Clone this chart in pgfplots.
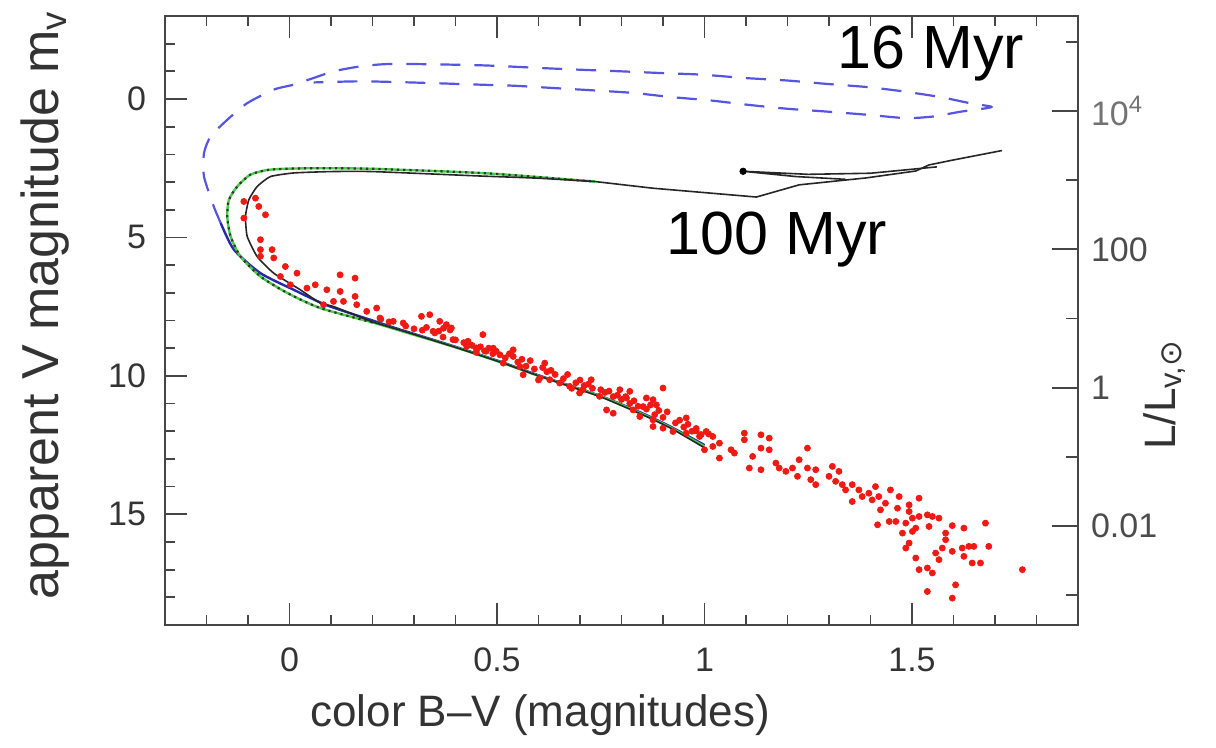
\documentclass[border=0pt]{standalone}
\usepackage{fontspec}
\setmainfont{Liberation Sans}
\newfontfamily\dejavu{DejaVu Sans}
\usepackage{pgfplots}
\usepackage{pgfplotstable}
\pgfplotsset{compat=1.18}
\definecolor{ptred}{RGB}{240,25,20}
\definecolor{isoblue}{RGB}{85,85,225}
\definecolor{msblue}{RGB}{40,40,170}
\definecolor{isogreen}{RGB}{70,205,70}
\definecolor{axgray}{RGB}{70,70,70}

\pgfplotstableread{
x m
-0.110 3.70
-0.082 3.58
-0.074 3.88
-0.058 4.18
-0.110 4.30
-0.070 5.08
-0.070 5.44
-0.042 5.44
-0.038 5.74
-0.070 5.68
-0.010 6.05
0.018 6.29
-0.022 6.41
0.002 6.71
0.042 6.83
0.062 6.71
0.090 6.89
0.122 6.35
0.158 6.47
0.122 6.95
0.158 7.13
0.082 7.43
0.106 7.31
0.130 7.31
0.162 7.43
0.186 7.67
0.210 7.55
0.218 7.91
0.250 8.03
0.274 8.09
0.318 7.85
0.338 7.79
0.362 8.03
0.378 8.15
0.390 8.27
0.346 8.39
0.394 8.69
0.434 8.87
0.466 8.51
0.450 8.99
0.474 9.11
0.498 9.11
0.387 8.34
0.371 8.28
0.427 8.94
0.451 9.06
0.491 9.00
0.507 9.24
0.539 9.06
0.539 9.30
0.515 9.54
0.555 9.66
0.563 9.96
0.615 9.54
0.603 10.08
0.627 10.14
0.651 10.26
0.675 10.38
0.707 10.50
0.727 10.14
0.699 10.62
0.747 10.74
0.764 11.23
0.780 11.35
0.796 10.50
0.820 10.56
0.812 10.80
0.828 11.23
0.852 11.11
0.860 10.80
0.876 10.86
0.884 11.05
0.900 10.44
0.844 11.47
0.876 11.59
0.876 11.83
0.900 11.89
0.924 12.01
0.956 12.07
0.988 12.19
1.004 12.01
1.020 12.19
0.956 11.52
0.980 11.99
0.992 12.12
1.036 12.43
1.000 12.67
1.020 12.55
1.064 12.67
1.072 12.79
1.036 12.97
1.096 12.07
1.096 12.31
1.136 12.13
1.156 12.25
1.136 12.61
1.156 12.67
1.116 12.91
1.108 13.33
1.136 13.39
1.172 13.15
1.180 13.33
1.196 13.45
1.212 13.33
1.224 13.63
1.248 12.61
1.228 13.03
1.248 13.33
1.268 13.39
1.256 13.75
1.268 13.93
1.300 13.63
1.308 13.27
1.324 13.45
1.316 13.81
1.332 13.93
1.340 14.12
1.356 13.93
1.372 14.12
1.356 14.54
1.380 14.36
1.396 14.24
1.412 14.00
1.420 14.36
1.404 14.48
1.424 14.84
1.448 14.12
1.469 14.36
1.436 14.60
1.465 14.78
1.493 14.66
1.517 14.42
1.493 14.90
1.417 15.38
1.445 15.26
1.461 15.26
1.485 15.32
1.501 15.14
1.517 15.08
1.537 15.02
1.549 15.08
1.565 15.14
1.477 15.68
1.501 15.62
1.509 15.50
1.541 15.44
1.493 16.04
1.485 16.22
1.509 16.58
1.517 17.00
1.537 16.94
1.549 17.12
1.557 16.40
1.573 16.22
1.565 16.64
1.581 15.92
1.581 15.68
1.597 15.41
1.625 15.50
1.597 16.34
1.621 16.22
1.637 16.16
1.649 16.16
1.625 16.52
1.645 16.76
1.665 16.76
1.677 15.32
1.685 16.16
1.537 17.79
1.605 17.55
1.597 18.03
1.766 17.00
0.22 7.95
0.24 8.05
0.28 8.20
0.30 8.30
0.32 8.35
0.35 8.45
0.37 8.60
0.42 8.80
0.44 8.90
0.47 9.10
0.49 9.20
0.52 9.35
0.55 9.50
0.57 9.65
0.59 9.75
0.62 9.85
0.64 9.95
0.66 10.10
0.69 10.25
0.71 10.35
0.73 10.45
0.76 10.60
0.78 10.75
0.80 10.85
0.82 11.00
0.84 11.10
0.86 11.20
0.88 11.40
0.90 11.50
0.93 11.70
0.95 11.85
0.97 12.00
0.33 8.25
0.36 8.38
0.40 8.70
0.43 8.75
0.46 8.95
0.48 9.00
0.53 9.20
0.56 9.40
0.58 9.45
0.61 9.70
0.63 9.80
0.67 9.95
0.70 10.15
0.72 10.30
0.75 10.50
0.77 10.55
0.79 10.70
0.81 10.75
0.83 10.90
0.87 11.05
0.89 11.25
0.91 11.30
0.94 11.60
0.96 11.75
0.98 11.90
1.01 12.10
0.60 10.15
0.68 10.45
0.45 9.15
}\stars

\begin{document}
\begin{tikzpicture}
\useasboundingbox (-82.5pt,-61.5pt) rectangle (525.5pt,312.5pt);
\begin{axis}[
  at={(0,0)}, anchor=south west, scale only axis,
  width=456.5pt, height=304.5pt,
  xmin=-0.3, xmax=1.9, ymin=-3, ymax=19, y dir=reverse,
  xtick={0,0.5,1,1.5}, xticklabels={0,0.5,1,1.5},
  minor xtick={-0.2,-0.1,0.1,0.2,0.3,0.4,0.6,0.7,0.8,0.9,1.1,1.2,1.3,1.4,1.6,1.7,1.8},
  ytick={0,5,10,15}, yticklabels={0,5,10,15},
  minor ytick={-2,-1,1,2,3,4,6,7,8,9,11,12,13,14,16,17,18},
  ytick pos=left, xtick pos=both, xticklabel pos=lower,
  tick align=inside,
  major tick length=11pt, minor tick length=5pt,
  tick style={axgray, line width=0.9pt},
  axis line style={axgray, line width=0.9pt},
  tick label style={font=\fontsize{17}{20}\selectfont, text=black!80},
  xticklabel style={yshift=-8pt},
  yticklabel style={xshift=-6pt},
  xlabel={color B\textendash V (magnitudes)},
  ylabel={apparent V magnitude m\textsubscript{v}},
  xlabel style={font=\fontsize{22}{26}\selectfont, text=black!80, at={(axis description cs:0.411,-0.148)}, anchor=center},
  ylabel style={font=\fontsize{26}{30}\selectfont, text=black!80, at={(axis description cs:-0.131,0.525)}, anchor=center},
]
\addplot[only marks, mark=*, mark size=1.5pt, ptred, mark options={draw=ptred, fill=ptred}] table[x=x, y=m] {\stars};

% 16 Myr isochrone, upper part dashed
\addplot[isoblue, line width=1.1pt, dash pattern=on 10pt off 7pt, smooth, tension=0.4] coordinates {
(-0.166,4.47) (-0.182,3.9) (-0.206,2.80) (-0.206,1.95) (-0.190,1.35) (-0.150,0.75) (-0.102,0.15)
(-0.038,-0.34) (0.010,-0.52) (0.058,-0.76) (0.106,-1.0) (0.171,-1.18) (0.251,-1.27) (0.459,-1.22)
(0.606,-1.12) (0.699,-1.06) (0.801,-1.0) (0.894,-0.94) (0.995,-0.88) (1.097,-0.76) (1.199,-0.67)
(1.292,-0.55) (1.394,-0.43) (1.477,-0.28) (1.569,-0.07) (1.640,0.15) (1.690,0.27) (1.680,0.33)
(1.620,0.45) (1.551,0.63) (1.486,0.69) (1.394,0.57) (1.292,0.45) (1.199,0.35) (1.106,0.21)
(1.014,0.05) (0.921,-0.07) (0.829,-0.22) (0.736,-0.31) (0.634,-0.40) (0.542,-0.48) (0.458,-0.52)
(0.291,-0.60) (0.171,-0.64) (0.058,-0.60)};
% 16 Myr main sequence
\addplot[msblue, line width=1.2pt, smooth, tension=0.4] coordinates {
(-0.166,4.47) (-0.134,5.44) (-0.070,6.29) (0.010,6.89) (0.090,7.45) (0.2,8.0) (0.267,8.33)
(0.4,8.95) (0.507,9.48) (0.6,9.98) (0.748,10.72) (0.85,11.35) (0.92,11.85) (1.0,12.5)};
% green isochrone
\addplot[isogreen, line width=1.2pt, smooth, tension=0.4] coordinates {
(1.0,12.55) (0.92,11.88) (0.85,11.38) (0.748,10.73) (0.6,10.0) (0.507,9.5) (0.4,8.97) (0.267,8.37)
(0.2,8.07) (0.074,7.55) (-0.006,7.0) (-0.070,6.41) (-0.118,5.69) (-0.142,4.96) (-0.150,4.24)
(-0.146,3.64) (-0.126,3.16) (-0.094,2.73) (-0.046,2.55) (0.05,2.5) (0.2,2.52) (0.459,2.67)
(0.6,2.82) (0.736,2.98)};
\addplot[black!80, line width=1.1pt, dotted, smooth, tension=0.4] coordinates {
(0.2,8.07) (0.074,7.55) (-0.006,7.0) (-0.070,6.41) (-0.118,5.69) (-0.142,4.96) (-0.150,4.24)
(-0.146,3.64) (-0.126,3.16) (-0.094,2.73) (-0.046,2.55) (0.05,2.5) (0.2,2.52) (0.459,2.67)
(0.6,2.82) (0.736,2.98)};
% 100 Myr isochrone
\addplot[black!85, line width=0.8pt, smooth, tension=0.3] coordinates {
(1.0,12.6) (0.92,11.9) (0.85,11.4) (0.748,10.75) (0.6,10.0) (0.507,9.5) (0.4,8.97) (0.267,8.35)
(0.2,8.05) (0.107,7.5) (0.074,7.37) (0.026,6.89) (-0.038,6.29) (-0.078,5.69) (-0.102,4.96)
(-0.106,4.24) (-0.098,3.64) (-0.078,3.16) (-0.046,2.80) (0.010,2.67) (0.1,2.62) (0.2,2.62)
(0.459,2.78) (0.6,2.86) (0.736,2.98)};
\addplot[black!85, line width=0.8pt] coordinates {
(0.736,2.98) (0.875,3.22) (1.0,3.38) (1.125,3.54) (1.228,3.1) (1.389,2.85) (1.509,2.6)
(1.541,2.38) (1.60,2.2) (1.717,1.86)};
\addplot[black!85, line width=0.8pt] coordinates {
(1.56,2.45) (1.40,2.68) (1.25,2.72) (1.093,2.61) (1.22,2.80) (1.34,2.90)};
\addplot[only marks, mark=*, mark size=1.6pt, black] coordinates {(1.093,2.61)};

\node[font=\fontsize{30.5}{34}\selectfont, text=black] at (axis cs:1.546,-1.64) {16 Myr};
\node[font=\fontsize{30.5}{34}\selectfont, text=black] at (axis cs:1.175,5.08) {100 Myr};
\end{axis}

\begin{axis}[
  at={(0,0)}, anchor=south west, scale only axis,
  width=456.5pt, height=304.5pt,
  xmin=-0.3, xmax=1.9, ymin=-3, ymax=19, y dir=reverse,
  axis x line=none, axis y line*=right,
  ytick={0.43,5.43,10.43,15.43},
  yticklabels={\textcolor{black!55}{10\textsuperscript{4}},100,1,0.01},
  minor ytick={-2.07,2.93,7.93,12.93,17.93},
  tick align=inside,
  major tick length=13pt, minor tick length=6pt,
  tick style={axgray, line width=0.9pt},
  axis line style={axgray, line width=0.9pt},
  tick label style={font=\fontsize{17}{20}\selectfont, text=black!70},
  yticklabel style={xshift=3pt},
  ylabel={L/L\textsubscript{v,{\dejavu ⊙}}},
  ylabel style={font=\fontsize{22}{26}\selectfont, text=black!80, at={(axis description cs:1.095,0.378)}, anchor=center, rotate=0},
]
\end{axis}
\end{tikzpicture}
\end{document}
